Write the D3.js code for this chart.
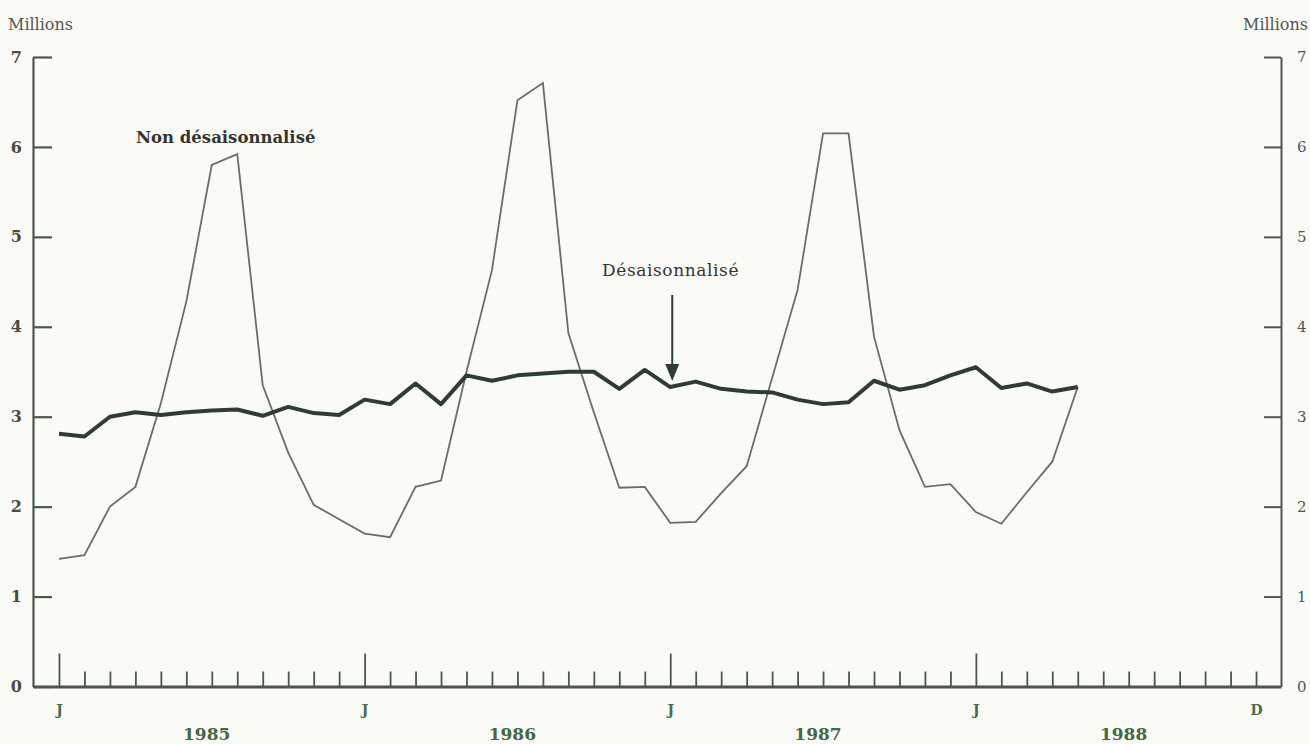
<!DOCTYPE html>
<html>
<head>
<meta charset="utf-8">
<script src="https://cdn.jsdelivr.net/npm/d3@7"></script>
<style>
  body { margin: 0; background: #fafbf7; }
  svg { display: block; }
  .tick text { font-family: "DejaVu Serif", serif; }
</style>
</head>
<body>
<div id="chart"></div>
<script>
const WIDTH = 1310;
const HEIGHT = 744;

// monthly, Jan 1985 .. May 1988
const nonAdjusted = [
  1.42, 1.46, 2.00, 2.22, 3.15, 4.28, 5.80, 5.92, 3.35, 2.60, 2.02, 1.86,
  1.70, 1.66, 2.22, 2.29, 3.50, 4.63, 6.52, 6.71, 3.93, 3.05, 2.21, 2.22,
  1.82, 1.83, 2.15, 2.45, 3.43, 4.41, 6.15, 6.15, 3.89, 2.85, 2.22, 2.25,
  1.94, 1.81, 2.16, 2.50, 3.33
];
const adjusted = [
  2.81, 2.78, 3.00, 3.05, 3.02, 3.05, 3.07, 3.08, 3.01, 3.11, 3.04, 3.02,
  3.19, 3.14, 3.37, 3.14, 3.46, 3.40, 3.46, 3.48, 3.50, 3.50, 3.31, 3.52,
  3.33, 3.39, 3.31, 3.28, 3.27, 3.19, 3.14, 3.16, 3.40, 3.30, 3.35, 3.46,
  3.55, 3.32, 3.37, 3.28, 3.33
];
const yTicks = [0, 1, 2, 3, 4, 5, 6, 7];
const years = ['1985', '1986', '1987', '1988'];
const monthLabels = { 0: 'J', 12: 'J', 24: 'J', 36: 'J', 47: 'D' };

const AXIS_COLOR = '#4b584a';
const THICK_COLOR = '#2f3d31';
const THIN_COLOR = '#687064';

let svg = d3.select('#chart')
  .append('svg')
  .attr('width', WIDTH)
  .attr('height', HEIGHT);

svg.append('rect')
  .attr('width', WIDTH)
  .attr('height', HEIGHT)
  .attr('fill', '#fafbf7');

// scales: month index -> x, millions -> y
let x = d3.scaleLinear().domain([-1.02, 47.98]).range([33, 1281]);
let y = d3.scaleLinear().domain([0, 7]).range([686.5, 57]);

// left axis
let leftAxis = svg.append('g')
  .attr('transform', `translate(${x(-1.02)},0)`)
  .call(d3.axisLeft(y).tickValues(yTicks).tickFormat(d3.format('d'))
    .tickSizeInner(-19).tickSizeOuter(0).tickPadding(11));
leftAxis.select('.domain').attr('stroke', AXIS_COLOR).attr('stroke-width', 2.2);
leftAxis.selectAll('.tick line').attr('stroke', AXIS_COLOR).attr('stroke-width', 2.2);
leftAxis.selectAll('.tick text')
  .attr('fill', '#4a4a44')
  .style('font-size', '16px')
  .style('font-weight', 'bold');

// right axis
let rightAxis = svg.append('g')
  .attr('transform', `translate(${x(47.98)},0)`)
  .call(d3.axisRight(y).tickValues(yTicks).tickFormat(d3.format('d'))
    .tickSizeInner(-17).tickSizeOuter(0).tickPadding(16));
rightAxis.select('.domain').attr('stroke', AXIS_COLOR).attr('stroke-width', 2);
rightAxis.selectAll('.tick line').attr('stroke', AXIS_COLOR).attr('stroke-width', 2);
rightAxis.selectAll('.tick text')
  .attr('fill', '#555550')
  .style('font-size', '15px');

// bottom axis with monthly ticks
let bottomAxis = svg.append('g')
  .attr('transform', `translate(0,${y(0)})`)
  .call(d3.axisBottom(x)
    .tickValues(d3.range(48))
    .tickSizeInner(-15)
    .tickSizeOuter(0)
    .tickPadding(19)
    .tickFormat(i => monthLabels[i] || ''));
bottomAxis.select('.domain').attr('stroke', AXIS_COLOR).attr('stroke-width', 3);
bottomAxis.selectAll('.tick line')
  .attr('stroke', AXIS_COLOR)
  .attr('stroke-width', 1.8)
  .attr('y2', i => i % 12 === 0 ? -33 : -15);
bottomAxis.selectAll('.tick text')
  .attr('fill', '#4a6a4a')
  .style('font-size', '14px')
  .style('font-weight', 'bold');

// year labels
svg.append('g')
  .selectAll('text')
  .data(years)
  .enter()
  .append('text')
  .attr('x', (d, i) => x(i * 12 + 5.8))
  .attr('y', 740)
  .attr('text-anchor', 'middle')
  .attr('fill', '#436943')
  .style('font-family', '"DejaVu Serif", serif')
  .style('font-size', '17px')
  .style('font-weight', 'bold')
  .text(d => d);

// axis unit labels
svg.append('text')
  .attr('x', 8).attr('y', 30)
  .attr('fill', '#555550')
  .style('font-family', '"DejaVu Serif", serif')
  .style('font-size', '16px')
  .text('Millions');
svg.append('text')
  .attr('x', 1308).attr('y', 30)
  .attr('text-anchor', 'end')
  .attr('fill', '#555550')
  .style('font-family', '"DejaVu Serif", serif')
  .style('font-size', '16px')
  .text('Millions');

// lines
let line = d3.line()
  .x((d, i) => x(i))
  .y(d => y(d));

svg.append('path')
  .datum(nonAdjusted)
  .attr('fill', 'none')
  .attr('stroke', THIN_COLOR)
  .attr('stroke-width', 1.8)
  .attr('stroke-linejoin', 'miter')
  .attr('d', line);

svg.append('path')
  .datum(adjusted)
  .attr('fill', 'none')
  .attr('stroke', THICK_COLOR)
  .attr('stroke-width', 4)
  .attr('stroke-linejoin', 'round')
  .attr('d', line);

// annotations
svg.append('text')
  .attr('x', 136).attr('y', 143)
  .attr('fill', '#333330')
  .style('font-family', '"DejaVu Serif", serif')
  .style('font-size', '16.5px')
  .style('font-weight', 'bold')
  .text('Non désaisonnalisé');

svg.append('text')
  .attr('x', 602).attr('y', 276)
  .attr('fill', '#333330')
  .style('font-family', '"DejaVu Serif", serif')
  .style('font-size', '17px')
  .style('letter-spacing', '0.6px')
  .text('Désaisonnalisé');

// arrow pointing to the adjusted series at Jan 1987
let arrowX = x(24) + 2;
svg.append('line')
  .attr('x1', arrowX).attr('x2', arrowX)
  .attr('y1', 295).attr('y2', 368)
  .attr('stroke', THICK_COLOR)
  .attr('stroke-width', 2);
svg.append('path')
  .attr('d', `M${arrowX - 7},364 L${arrowX + 7},364 L${arrowX},381 Z`)
  .attr('fill', THICK_COLOR);
</script>
</body>
</html>
